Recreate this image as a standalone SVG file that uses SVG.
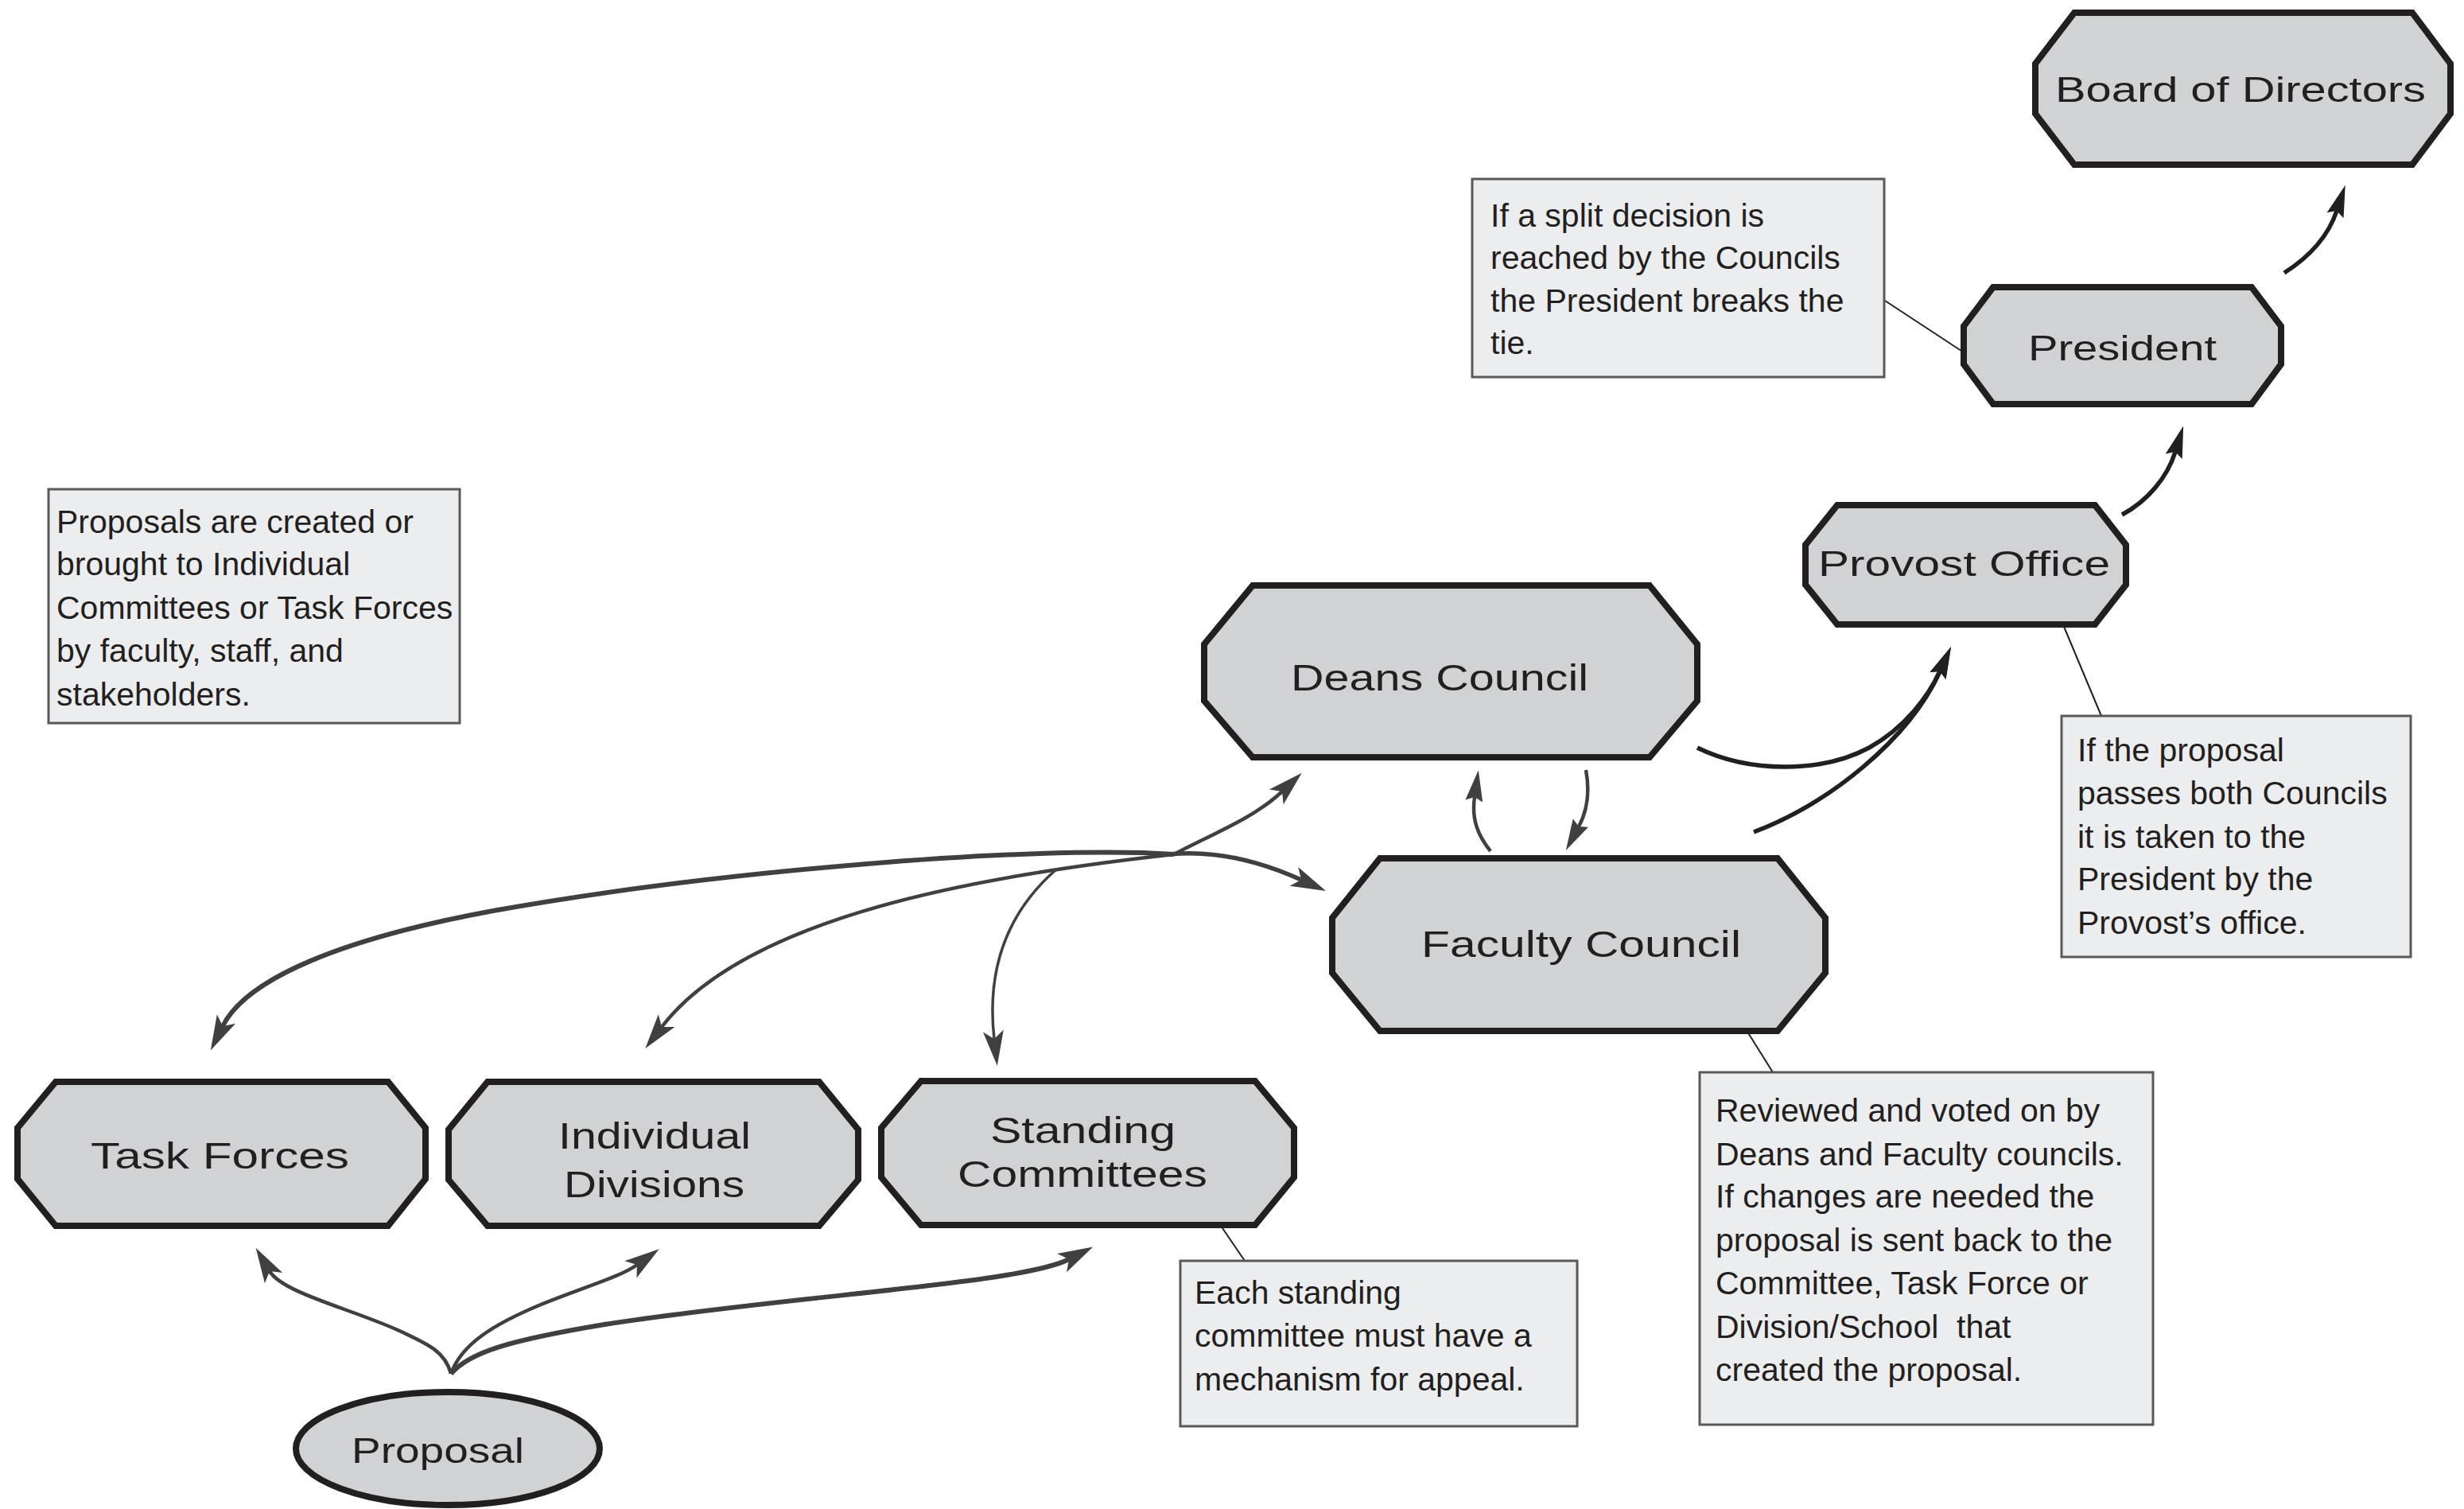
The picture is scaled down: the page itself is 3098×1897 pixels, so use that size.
<svg xmlns="http://www.w3.org/2000/svg" width="3098" height="1897" viewBox="0 0 3098 1897">
<style>
.node{fill:#d1d2d4;stroke:#231f20;stroke-width:8;stroke-linejoin:miter}
.nt{font-family:"Liberation Sans",Arial,sans-serif;fill:#231f20}
.note{fill:#ecedef;stroke:#58595b;stroke-width:3}
.ntx{font-family:"Liberation Sans",Arial,sans-serif;font-size:41px;fill:#231f20}
.lead{stroke:#231f20;stroke-width:2;fill:none}
.cg{fill:none;stroke:#404040;stroke-linecap:butt}
.ck{fill:none;stroke:#231f20;stroke-width:5.5;stroke-linecap:butt}
</style>
<defs>
<marker id="ag" markerUnits="userSpaceOnUse" viewBox="-12 -15 48 30" markerWidth="48" markerHeight="30" refX="0" refY="0" orient="auto"><path d="M34,0 L-10,-13 L0,0 L-10,13 Z" fill="#404040"/></marker>
<marker id="as" markerUnits="userSpaceOnUse" viewBox="-8 -13 44 26" markerWidth="44" markerHeight="26" refX="0" refY="0" orient="auto"><path d="M34,0 L-5,-11 L0,0 L-5,11 Z" fill="#404040"/></marker>
<marker id="ak" markerUnits="userSpaceOnUse" viewBox="-8 -13 44 26" markerWidth="44" markerHeight="26" refX="0" refY="0" orient="auto"><path d="M34,0 L-6,-11 L0,0 L-6,11 Z" fill="#231f20"/></marker>
</defs>

<g id="connectors">
<!-- fan from junction -->
<path class="cg" stroke-width="6" d="M1476,1074 C1300,1062 900,1095 620,1145 C430,1180 310,1230 280,1290" marker-end="url(#ag)"/>
<path class="cg" stroke-width="5.5" d="M1470,1074 C1530,1068 1585,1083 1636,1106" marker-end="url(#ag)"/>
<path class="cg" stroke-width="4.5" d="M1476,1074 C1520,1050 1575,1030 1612,995" marker-end="url(#ag)"/>
<path class="cg" stroke-width="4.5" d="M1476,1074 C1240,1100 940,1150 832,1291" marker-end="url(#ag)"/>
<path class="cg" stroke-width="3.5" d="M1328,1093 C1280,1135 1238,1200 1250,1306" marker-end="url(#ag)"/>
<!-- fan from proposal -->
<path class="cg" stroke-width="4.5" d="M567,1727 C560,1700 540,1690 500,1672 C440,1645 355,1625 339,1598" marker-end="url(#ag)"/>
<path class="cg" stroke-width="4.5" d="M567,1727 C580,1690 620,1665 680,1640 C740,1616 780,1605 801,1590" marker-end="url(#ag)"/>
<path class="cg" stroke-width="6" d="M567,1727 C590,1700 640,1685 760,1665 C1000,1628 1284,1614 1344,1583" marker-end="url(#ag)"/>
<!-- deans / faculty -->
<path class="cg" stroke-width="4.5" d="M1874,1070 C1858,1050 1850,1030 1854,1002" marker-end="url(#as)"/>
<path class="cg" stroke-width="4.5" d="M1994,968 C1998,990 1998,1015 1985,1039" marker-end="url(#as)"/>
<!-- to provost -->
<path class="ck" d="M2134,940 C2200,972 2290,972 2350,940 C2395,915 2425,875 2439,844" marker-end="url(#ak)"/>
<path class="ck" d="M2205,1046 C2300,1010 2400,930 2439,844" marker-end="url(#ak)"/>
<!-- provost to president, president to board -->
<path class="ck" d="M2668,647 C2700,630 2725,600 2735,568" marker-end="url(#ak)"/>
<path class="ck" d="M2872,343 C2905,322 2928,295 2938,265" marker-end="url(#ak)"/>
<!-- leader lines -->
<line class="lead" x1="2370" y1="378" x2="2469" y2="443"/>
<line class="lead" x1="2593" y1="783" x2="2642" y2="900"/>
<line class="lead" x1="2197" y1="1297" x2="2229" y2="1348"/>
<line class="lead" x1="1535" y1="1541" x2="1565" y2="1585"/>
</g>

<g id="board">
<polygon class="node" points="2608,16 3033,16 3081,80 3081,143 3033,207 2608,207 2559,143 2559,80"/>
<text class="nt" x="2584" y="128" font-size="44" textLength="466" lengthAdjust="spacingAndGlyphs">Board of Directors</text>
</g>
<g id="president">
<polygon class="node" points="2506,361 2831,361 2868,410 2868,458 2831,508 2506,508 2469,458 2469,410"/>
<text class="nt" x="2550" y="453" font-size="44" textLength="237" lengthAdjust="spacingAndGlyphs">President</text>
</g>
<g id="provost">
<polygon class="node" points="2310,635 2634,635 2673,685 2673,735 2634,785 2310,785 2270,735 2270,685"/>
<text class="nt" x="2286" y="724" font-size="44" textLength="367" lengthAdjust="spacingAndGlyphs">Provost Office</text>
</g>
<g id="deans">
<polygon class="node" points="1575,736 2074,736 2134,810 2134,881 2074,952 1575,952 1514,881 1514,810"/>
<text class="nt" x="1623" y="868" font-size="47" textLength="374" lengthAdjust="spacingAndGlyphs">Deans Council</text>
</g>
<g id="faculty">
<polygon class="node" points="1735,1079 2235,1079 2295,1154 2295,1223 2235,1296 1735,1296 1675,1223 1675,1154"/>
<text class="nt" x="1787" y="1203" font-size="47" textLength="402" lengthAdjust="spacingAndGlyphs">Faculty Council</text>
</g>
<g id="taskforces">
<polygon class="node" points="70,1360 488,1360 535,1418 535,1482 488,1541 70,1541 22,1482 22,1418"/>
<text class="nt" x="114" y="1469" font-size="47" textLength="325" lengthAdjust="spacingAndGlyphs">Task Forces</text>
</g>
<g id="divisions">
<polygon class="node" points="613,1360 1030,1360 1079,1420 1079,1483 1030,1541 613,1541 564,1483 564,1420"/>
<text class="nt" x="702" y="1444" font-size="47" textLength="242" lengthAdjust="spacingAndGlyphs">Individual</text>
<text class="nt" x="709" y="1505" font-size="47" textLength="227" lengthAdjust="spacingAndGlyphs">Divisions</text>
</g>
<g id="standing">
<polygon class="node" points="1158,1359 1578,1359 1627,1418 1627,1480 1578,1540 1158,1540 1108,1480 1108,1418"/>
<text class="nt" x="1245" y="1437" font-size="47" textLength="233" lengthAdjust="spacingAndGlyphs">Standing</text>
<text class="nt" x="1204" y="1492" font-size="47" textLength="314" lengthAdjust="spacingAndGlyphs">Committees</text>
</g>
<g id="proposal">
<ellipse class="node" cx="563" cy="1821" rx="191" ry="71"/>
<text class="nt" x="442" y="1839" font-size="44" textLength="217" lengthAdjust="spacingAndGlyphs">Proposal</text>
</g>

<g id="note-proposals">
<rect class="note" x="61" y="615" width="517" height="294"/>
<text class="ntx" x="71" y="670">Proposals are created or</text>
<text class="ntx" x="71" y="723">brought to Individual</text>
<text class="ntx" x="71" y="778">Committees or Task Forces</text>
<text class="ntx" x="71" y="832">by faculty, staff, and</text>
<text class="ntx" x="71" y="887">stakeholders.</text>
</g>
<g id="note-president">
<rect class="note" x="1851" y="225" width="518" height="249"/>
<text class="ntx" x="1874" y="285">If a split decision is</text>
<text class="ntx" x="1874" y="338">reached by the Councils</text>
<text class="ntx" x="1874" y="392">the President breaks the</text>
<text class="ntx" x="1874" y="445">tie.</text>
</g>
<g id="note-provost">
<rect class="note" x="2592" y="900" width="439" height="303"/>
<text class="ntx" x="2612" y="957">If the proposal</text>
<text class="ntx" x="2612" y="1011">passes both Councils</text>
<text class="ntx" x="2612" y="1066">it is taken to the</text>
<text class="ntx" x="2612" y="1119">President by the</text>
<text class="ntx" x="2612" y="1174">Provost’s office.</text>
</g>
<g id="note-faculty">
<rect class="note" x="2137" y="1348" width="570" height="443"/>
<text class="ntx" x="2157" y="1410">Reviewed and voted on by</text>
<text class="ntx" x="2157" y="1465">Deans and Faculty councils.</text>
<text class="ntx" x="2157" y="1518">If changes are needed the</text>
<text class="ntx" x="2157" y="1573">proposal is sent back to the</text>
<text class="ntx" x="2157" y="1627">Committee, Task Force or</text>
<text class="ntx" x="2157" y="1682" style="white-space:pre">Division/School  that</text>
<text class="ntx" x="2157" y="1736">created the proposal.</text>
</g>
<g id="note-standing">
<rect class="note" x="1484" y="1585" width="499" height="208"/>
<text class="ntx" x="1502" y="1639">Each standing</text>
<text class="ntx" x="1502" y="1693">committee must have a</text>
<text class="ntx" x="1502" y="1748">mechanism for appeal.</text>
</g>
</svg>
